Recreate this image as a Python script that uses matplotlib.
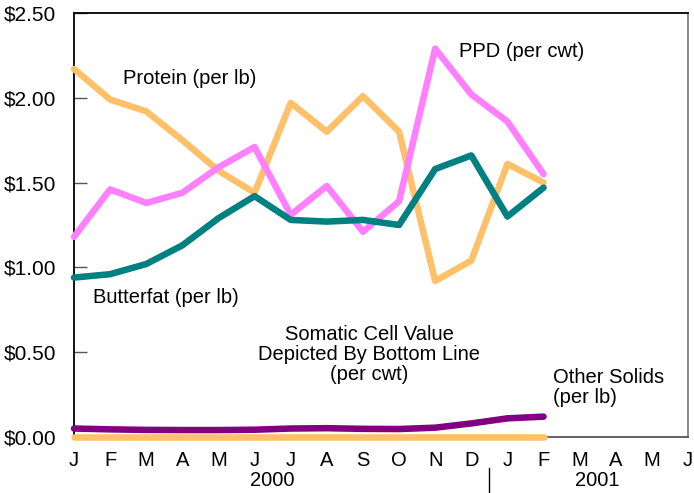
import numpy as np
import matplotlib
matplotlib.use('Agg')
import matplotlib.pyplot as plt

plt.rcParams['font.family'] = ['Liberation Sans', 'DejaVu Sans']

# %% data, Jan 2000 .. Feb 2001
month_labels = ['J', 'F', 'M', 'A', 'M', 'J', 'J', 'A', 'S', 'O', 'N', 'D',
                'J', 'F', 'M', 'A', 'M', 'J']
protein = [2.17, 1.99, 1.92, 1.75, 1.57, 1.44, 1.97, 1.80, 2.01, 1.80,
           0.92, 1.04, 1.61, 1.50]
ppd = [1.18, 1.46, 1.38, 1.44, 1.59, 1.71, 1.31, 1.48, 1.21, 1.39,
       2.29, 2.02, 1.86, 1.55]
butterfat = [0.94, 0.96, 1.02, 1.13, 1.29, 1.42, 1.28, 1.27, 1.28, 1.25,
             1.58, 1.66, 1.30, 1.47]
other_solids = [0.05, 0.045, 0.042, 0.041, 0.041, 0.043, 0.05, 0.052, 0.048,
                0.047, 0.055, 0.08, 0.11, 0.12]
somatic = [0.0] * 14
yticks = [0.0, 0.5, 1.0, 1.5, 2.0, 2.5]

orange = '#FFC06A'
pink = '#FF80FF'
teal = '#008080'
purple = '#800080'

# %%
fig = plt.figure(figsize=(6.94, 4.93), dpi=100)
ax = fig.add_axes([74/694, 56/493, 614/694, 424/493])

x = np.arange(len(protein))
lw = 4.7
ax.plot(x, somatic, color=orange, lw=lw, solid_capstyle='round', clip_on=False, zorder=3)
ax.plot(x, other_solids, color=purple, lw=lw, solid_capstyle='round', clip_on=False, zorder=3)
ax.plot(x, protein, color=orange, lw=lw, solid_capstyle='round', solid_joinstyle='round', clip_on=False, zorder=3)
ax.plot(x, ppd, color=pink, lw=lw, solid_capstyle='round', solid_joinstyle='round', clip_on=False, zorder=3)
ax.plot(x, butterfat, color=teal, lw=lw, solid_capstyle='round', solid_joinstyle='round', clip_on=False, zorder=4)

ax.set_xlim(0, len(month_labels) - 1)
ax.set_ylim(0, 2.5)
ax.set_xticks(np.arange(len(month_labels)))
ax.set_xticklabels(month_labels)
ax.set_yticks(yticks)
ax.set_yticklabels([f'${v:.2f}' for v in yticks])
ax.tick_params(axis='x', length=0, pad=10, labelsize=14.5)
ax.tick_params(axis='y', direction='in', length=9, width=1, color='#555555',
               pad=13, labelsize=15)

ax.spines['left'].set_color('black')
ax.spines['top'].set_color('black')
ax.spines['right'].set_color('#808080')
ax.spines['bottom'].set_color('#555555')
for s in ax.spines.values():
    s.set_linewidth(1.3)

# labels on the chart
fs = 14.5
ax.text(1.36, 2.115, 'Protein (per lb)', fontsize=fs, va='center', ha='left')
ax.text(10.66, 2.275, 'PPD (per cwt)', fontsize=fs, va='center', ha='left')
ax.text(0.53, 0.82, 'Butterfat (per lb)', fontsize=fs, va='center', ha='left')
ax.text(8.17, 0.485, 'Somatic Cell Value\nDepicted By Bottom Line\n(per cwt)',
        fontsize=fs, va='center', ha='center', linespacing=1.08)
ax.text(13.26, 0.29, 'Other Solids\n(per lb)', fontsize=fs, va='center',
        ha='left', linespacing=1.05)

# year labels under the months
trans = ax.get_xaxis_transform()
ax.text(5.5, -0.103, '2000', transform=trans, fontsize=14.5, ha='center', va='center')
ax.text(14.5, -0.103, '2001', transform=trans, fontsize=14.5, ha='center', va='center')
ax.plot([11.5, 11.5], [-0.073, -0.13], transform=trans, color='black', lw=1, clip_on=False)

fig.savefig('out.png', dpi=100)
